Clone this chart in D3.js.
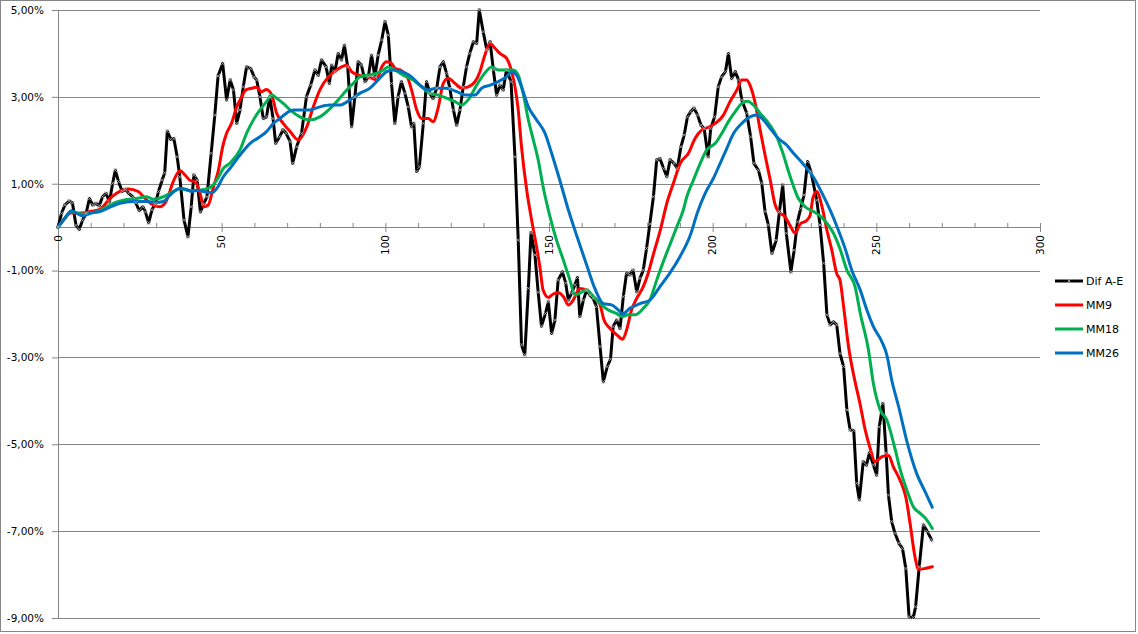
<!DOCTYPE html>
<html><head><meta charset="utf-8">
<script src="https://cdn.jsdelivr.net/npm/d3@7"></script>
<style>body{margin:0;background:#fff} svg{display:block}</style>
</head><body>
<svg id="c" width="1138" height="634"></svg>
<script>
const seriesNames = ["Dif A-E", "MM9", "MM18", "MM26"];
const seriesColors = ["#000000", "#FF0000", "#00B050", "#0070C0"];
const xTickValues = [0, 50, 100, 150, 200, 250, 300];
const yTickValues = [-9, -7, -5, -3, -1, 1, 3, 5];

const difAE = [[0,0],[1.1,0.32],[2.1,0.51],[3.4,0.60],[4.4,0.56],[5.5,0.04],[6.5,-0.05],[7.5,0.16],[8.6,0.32],[9.6,0.66],[10.6,0.51],[11.6,0.55],[12.6,0.49],[13.6,0.70],[14.7,0.78],[15.7,0.58],[16.7,1.01],[17.5,1.31],[18.5,1.05],[19.6,0.82],[20.6,0.87],[21.6,0.78],[22.8,0.70],[23.8,0.56],[24.8,0.38],[25.9,0.47],[26.7,0.35],[27.7,0.10],[28.7,0.40],[29.7,0.53],[30.7,0.82],[31.8,1.08],[32.6,1.25],[33.4,2.21],[34.4,2.02],[35.4,2.04],[36.4,1.62],[37.2,1.16],[38.5,0.16],[39.7,-0.22],[40.7,0.47],[41.5,1.20],[42.5,1.08],[43.5,0.35],[44.5,0.53],[45.5,0.70],[46.8,1.70],[47.9,2.58],[48.9,3.48],[50.3,3.77],[51.5,2.93],[52.6,3.39],[53.6,3.16],[54.6,2.39],[55.6,2.70],[56.6,3.23],[57.6,3.69],[58.9,3.65],[59.9,3.46],[60.7,3.39],[61.7,3.00],[62.7,2.50],[63.7,2.54],[64.7,3.00],[65.7,2.50],[66.5,1.93],[67.7,2.08],[68.7,2.24],[69.7,2.16],[70.9,1.97],[71.7,1.47],[72.9,1.85],[74.4,2.16],[75.9,3.00],[77.2,3.27],[78.5,3.62],[79.5,3.50],[80.5,3.85],[81.9,3.69],[82.9,3.31],[83.6,3.73],[84.6,3.58],[85.6,4.00],[86.6,3.85],[87.5,4.19],[88.5,3.69],[89.7,2.31],[90.7,3.00],[91.7,3.81],[92.7,3.73],[93.8,3.35],[94.8,3.46],[95.8,3.96],[96.8,3.46],[97.8,3.96],[98.9,4.31],[99.9,4.73],[100.9,4.42],[101.9,3.31],[102.9,2.39],[103.9,3.00],[104.9,3.35],[106,3.08],[107,2.77],[108,2.31],[108.7,2.39],[109.6,1.28],[110.4,1.39],[111.6,2.39],[112.6,3.35],[113.6,3.08],[114.6,2.96],[115.7,3.20],[116.7,3.69],[117.7,3.81],[118.7,3.54],[119.7,3.20],[120.8,2.70],[121.8,2.35],[122.8,2.70],[123.8,3.23],[124.8,3.69],[125.8,4.00],[126.9,4.27],[127.9,4.23],[128.7,5.0],[129.9,4.50],[131,4.08],[132,4.27],[133,3.62],[134,3.04],[135,3.27],[136,3.16],[137,3.62],[138.4,3.35],[139.6,1.62],[140.6,-0.30],[141.6,-2.71],[142.6,-2.94],[143.7,-1.41],[144.5,-0.13],[145.7,-0.64],[146.7,-1.50],[147.7,-2.28],[148.9,-1.99],[149.8,-1.72],[150.8,-2.45],[151.8,-2.14],[152.8,-1.22],[154.1,-1.03],[155.1,-1.29],[155.9,-1.68],[156.9,-1.52],[157.9,-1.33],[158.7,-1.16],[159.4,-2.06],[160.5,-1.68],[161.5,-1.45],[162.5,-1.56],[163.5,-1.64],[164.5,-1.83],[165.6,-2.75],[166.6,-3.56],[167.8,-3.21],[168.8,-3.04],[169.6,-2.29],[170.7,-2.14],[171.7,-2.33],[172.7,-1.60],[173.7,-1.06],[174.7,-1.10],[175.7,-0.99],[176.8,-1.49],[177.8,-1.18],[178.8,-0.99],[179.8,-0.49],[180.8,0.07],[181.9,0.70],[182.9,1.55],[183.9,1.58],[185,1.35],[186,1.16],[187,1.55],[188.2,1.47],[189.2,1.35],[190.3,1.85],[191.3,2.12],[192.3,2.54],[193.3,2.66],[194.3,2.74],[195.4,2.58],[196.4,2.35],[197.4,2.27],[198.6,1.62],[199.4,2.27],[200.6,2.54],[201.7,3.23],[202.7,3.46],[203.9,3.58],[204.8,4.00],[205.8,3.42],[206.9,3.58],[207.9,3.39],[208.9,2.93],[210.4,2.62],[211.6,2.08],[212.6,1.47],[214,1.31],[215,1.01],[216,0.36],[217,0.05],[218.1,-0.60],[219.4,-0.30],[220.4,0.36],[221.4,0.97],[222.5,-0.14],[223.9,-1.03],[224.9,-0.53],[225.9,0.12],[226.9,0.43],[227.9,0.74],[229,1.51],[230,1.28],[231.8,0.62],[232.8,0.05],[233.9,-0.83],[234.9,-2.02],[235.9,-2.25],[236.9,-2.18],[237.9,-2.25],[238.9,-2.91],[240,-3.21],[241,-4.21],[242,-4.67],[243.1,-4.68],[244,-5.90],[244.8,-6.28],[246,-5.40],[247,-5.48],[247.9,-5.19],[249.1,-5.48],[250.1,-5.71],[250.9,-4.60],[252,-4.06],[253,-5.20],[253.7,-6.17],[254.7,-6.78],[255.7,-7.05],[256.9,-7.28],[258,-7.40],[259,-7.86],[260,-8.97],[261.3,-8.99],[262,-8.74],[263.1,-7.82],[264.4,-6.86],[265.6,-7.01],[266.9,-7.20]];

const mm9 = [[0,0],[2,0.2],[4,0.33],[6,0.32],[8,0.33],[9.3,0.35],[12.8,0.41],[15.9,0.66],[17.9,0.78],[21.5,0.88],[24.5,0.82],[26.6,0.66],[29.1,0.51],[31.2,0.47],[33.2,0.62],[35.2,1.05],[37.3,1.30],[38.8,1.20],[40.3,1.08],[41.9,1.05],[43.4,0.78],[44.6,0.47],[45.9,0.51],[47.5,0.93],[49,1.31],[50.3,1.85],[51.5,2.16],[53,2.39],[54.6,2.77],[56.1,3.00],[57.4,3.16],[59.2,3.20],[60.7,3.22],[62.2,3.12],[63.7,3.17],[65.3,3.04],[66.8,2.62],[68.8,2.39],[70.9,2.20],[73.4,2.01],[76,2.31],[78,2.77],[80,3.16],[82.6,3.46],[85.1,3.62],[88.2,3.73],[89.7,3.58],[91.7,3.50],[94.3,3.46],[95.8,3.43],[97.3,3.39],[98.9,3.69],[100.4,3.81],[101.9,3.77],[102.9,3.66],[104.5,3.62],[106.5,3.50],[108,3.16],[109.6,2.70],[111.1,2.50],[113.1,2.50],[114.6,2.43],[116.2,2.77],[117.7,3.31],[119.2,3.43],[121.3,3.31],[123.3,3.20],[125.3,3.23],[127.4,3.35],[128.9,3.58],[130.4,3.96],[132,4.23],[133.5,4.12],[135,4.00],[137,3.89],[138.6,3.58],[139.6,3.23],[140.6,2.70],[141.6,1.85],[143.2,0.85],[144.7,0.16],[146.2,-0.45],[147.2,-0.91],[148.2,-1.45],[149.8,-1.62],[151.3,-1.54],[152.8,-1.51],[154.4,-1.60],[155.9,-1.79],[157.4,-1.68],[159.4,-1.41],[161.5,-1.45],[163.5,-1.60],[165.6,-1.79],[166.8,-2.14],[168.6,-2.33],[170.7,-2.48],[172.5,-2.58],[173.7,-2.37],[175.2,-1.91],[176.8,-1.64],[178.8,-1.37],[180.3,-1.06],[181.9,-0.62],[183.9,-0.10],[186,0.55],[188,1.01],[190.1,1.47],[192.6,1.70],[194.6,2.04],[196.7,2.24],[198.7,2.30],[200.8,2.39],[203.3,2.58],[205.3,2.89],[207.4,3.16],[208.9,3.39],[210.4,3.39],[211.4,3.27],[213,2.85],[214.5,2.24],[216,1.66],[217.6,1.08],[219.1,0.51],[220.1,0.36],[222.1,0.24],[223.7,0.03],[225.2,-0.14],[226.7,0.07],[228.8,0.16],[229.8,0.28],[230.6,0.66],[231.8,0.82],[233.4,0.47],[234.9,-0.07],[236.4,-0.53],[237.9,-1.07],[238.9,-1.22],[240,-1.83],[241.5,-2.75],[243.5,-3.56],[245,-4.06],[246.6,-4.67],[248.1,-5.09],[249.6,-5.40],[251.6,-5.29],[253.7,-5.25],[255.2,-5.52],[257.2,-5.82],[259.1,-6.25],[260.3,-6.82],[261.8,-7.59],[262.9,-7.88],[264.9,-7.86],[267.1,-7.82]];

const mm18 = [[0,0],[2,0.2],[4,0.36],[6,0.32],[8,0.3],[10.3,0.33],[12.8,0.38],[14.5,0.45],[16.9,0.55],[20,0.62],[24,0.66],[27.1,0.70],[29.1,0.64],[32.2,0.70],[35.2,0.82],[37.3,0.89],[39.3,0.85],[41.3,0.84],[43.4,0.85],[46.4,0.91],[48.5,1.08],[50.5,1.35],[52.5,1.47],[55.6,1.78],[57.6,2.16],[59.7,2.47],[61.7,2.70],[63.7,2.89],[65.3,3.04],[66.8,2.97],[68.8,2.85],[70.9,2.70],[73.9,2.54],[77,2.47],[80,2.54],[83.1,2.73],[85.6,2.93],[88.2,3.16],[90.2,3.31],[92.2,3.46],[94.8,3.50],[97.3,3.54],[99.4,3.62],[100.9,3.69],[102.9,3.62],[105.5,3.50],[108.5,3.39],[111.1,3.23],[113.6,3.08],[116.2,3.04],[118.7,2.97],[121.3,2.89],[123.3,2.81],[125.3,2.93],[127.9,3.27],[129.9,3.50],[132.5,3.69],[134.5,3.62],[137,3.62],[139.1,3.62],[140.6,3.50],[142.1,3.08],[143.7,2.47],[145.2,2.01],[146.7,1.55],[148.2,0.93],[150.3,0.24],[152.3,-0.30],[154.4,-0.76],[156.4,-1.22],[157.9,-1.56],[159.4,-1.52],[161.5,-1.45],[163.5,-1.60],[165.6,-1.76],[168.1,-1.91],[170.7,-1.99],[172.2,-2.06],[174.2,-2.02],[176.3,-2.02],[178.8,-1.87],[180.8,-1.68],[182.9,-1.22],[184.9,-0.80],[186.9,-0.41],[189,0.0],[191,0.39],[192.1,0.70],[194.1,1.08],[196.2,1.47],[198.2,1.78],[200.8,1.93],[202.8,2.16],[204.8,2.43],[206.9,2.66],[208.9,2.85],[210.6,2.90],[212.5,2.81],[214.5,2.62],[217.1,2.39],[219.6,2.08],[221.1,1.78],[223.7,1.16],[226.2,0.66],[228.2,0.47],[230.8,0.36],[232.8,0.26],[234.9,0.09],[236.9,-0.14],[238.9,-0.50],[241,-0.99],[243.5,-1.37],[245.1,-1.99],[247.6,-2.83],[249.1,-3.60],[251.2,-4.21],[253.2,-4.44],[255.8,-5.13],[257.2,-5.56],[259.3,-6.05],[261.3,-6.44],[263.4,-6.59],[265.4,-6.74],[267.1,-6.94]];

const mm26 = [[0,0],[2.1,0.20],[4.2,0.38],[5.7,0.32],[7.7,0.26],[10.3,0.33],[12.8,0.36],[15.9,0.46],[18.9,0.55],[23,0.59],[27.1,0.59],[30.1,0.57],[32.2,0.59],[34.2,0.74],[37.3,0.89],[39.3,0.87],[40.8,0.82],[42.4,0.85],[44.4,0.82],[46.9,0.79],[48.5,0.89],[50.5,1.16],[52.5,1.35],[55.6,1.66],[58.7,1.93],[61.7,2.08],[63.7,2.20],[65.8,2.39],[67.8,2.50],[69.9,2.63],[71.9,2.70],[73.9,2.70],[77,2.70],[80,2.77],[83.1,2.81],[86.1,2.81],[89.2,2.93],[92.2,3.08],[95.3,3.20],[97.8,3.39],[100.4,3.58],[102.4,3.62],[105,3.58],[108,3.46],[110.6,3.27],[113.1,3.16],[115.7,3.20],[118.7,3.20],[121.8,3.12],[124.8,3.04],[127.4,3.04],[129.4,3.20],[132,3.27],[134.5,3.35],[137,3.46],[138.6,3.58],[140.1,3.50],[141.6,3.23],[143.7,2.77],[146.2,2.47],[148.8,2.16],[150.8,1.70],[153.3,1.08],[155.9,0.40],[158.4,-0.18],[161.5,-0.87],[164,-1.41],[166.6,-1.76],[169.1,-1.79],[171.2,-1.91],[172.5,-2.00],[174.7,-1.87],[177.8,-1.76],[180.8,-1.68],[183.9,-1.37],[186.9,-1.06],[190,-0.68],[193.1,-0.20],[195.4,0.35],[197.7,0.78],[200.2,1.12],[202.3,1.47],[204.3,1.81],[206.4,2.16],[208.9,2.39],[211.4,2.54],[213.5,2.58],[215.5,2.47],[217.6,2.27],[220.1,2.04],[222.6,1.89],[224.7,1.70],[227.7,1.45],[230.8,1.15],[233.3,0.80],[235.9,0.39],[238.4,-0.07],[240.5,-0.50],[242.5,-0.99],[245.1,-1.45],[247.1,-1.91],[249.1,-2.29],[251.7,-2.64],[253.2,-2.94],[254.7,-3.52],[256.8,-4.13],[259.5,-4.98],[262.3,-5.67],[264.9,-6.09],[267.1,-6.45]];

const allSeries = [difAE, mm9, mm18, mm26];

const svg = d3.select("#c");
const FONT = "'DejaVu Sans', Verdana, sans-serif";
const x = d3.scaleLinear().domain([0, 300]).range([58, 1040]);
const y = d3.scaleLinear().domain([-9, 5]).range([618, 10]);
const GRID = "#868686";

svg.append("rect").attr("x", 0.5).attr("y", 0.5).attr("width", 1135).attr("height", 631)
  .attr("fill", "#fff").attr("stroke", GRID);

// horizontal gridlines
svg.append("g").selectAll("line").data(yTickValues).join("line")
  .attr("x1", x(0)).attr("x2", x(300))
  .attr("y1", d => Math.round(y(d)) + 0.5).attr("y2", d => Math.round(y(d)) + 0.5)
  .attr("stroke", GRID).attr("stroke-width", 1);

// y axis
const fmt = d => d3.format(".2f")(d).replace("−", "-").replace(".", ",") + "%";
const yAxis = svg.append("g").attr("transform", `translate(${x(0)},0)`)
  .call(d3.axisLeft(y).tickValues(yTickValues).tickSize(6).tickSizeOuter(0).tickPadding(8).tickFormat(fmt));
yAxis.selectAll("path,line").attr("stroke", GRID);
yAxis.selectAll("text").attr("font-family", FONT).attr("font-size", "10.5px").attr("fill", "#000");

// x axis at zero
const y0 = Math.round(y(0));
const minorTicks = d3.range(0, 301, 10).filter(d => d % 50 !== 0);
const xMinor = svg.append("g").attr("transform", `translate(0,${y0})`)
  .call(d3.axisTop(x).tickValues(minorTicks).tickSize(4).tickSizeOuter(0).tickFormat(""));
const xMajTop = svg.append("g").attr("transform", `translate(0,${y0})`)
  .call(d3.axisTop(x).tickValues(xTickValues).tickSize(4).tickSizeOuter(0).tickFormat(""));
const xMaj = svg.append("g").attr("transform", `translate(0,${y0})`)
  .call(d3.axisBottom(x).tickValues(xTickValues).tickSize(5).tickSizeOuter(0).tickFormat(""));
[xMinor, xMajTop, xMaj].forEach(g => g.selectAll("path,line").attr("stroke", GRID));
svg.append("g").selectAll("text").data(xTickValues).join("text")
  .attr("transform", d => `translate(${x(d)},${y0 + 8}) rotate(-90)`)
  .attr("text-anchor", "end").attr("dy", "0.35em")
  .attr("font-family", FONT).attr("font-size", "10.5px").attr("fill", "#000")
  .text(d => d);

// series
const lineLin = d3.line().x(d => x(d[0])).y(d => y(d[1]));
const lineSmooth = d3.line().x(d => x(d[0])).y(d => y(d[1])).curve(d3.curveMonotoneX);
const plot = svg.append("g");
allSeries.forEach((s, i) => {
  plot.append("path").datum(s)
    .attr("d", i === 0 ? lineLin : lineSmooth)
    .attr("fill", "none").attr("stroke", seriesColors[i])
    .attr("stroke-width", 3).attr("stroke-linejoin", "round").attr("stroke-linecap", "round");
});
const xMark = "M-2,-2L2,2M-2,2L2,-2";
plot.append("g").selectAll("path").data(difAE).join("path")
  .attr("transform", d => `translate(${x(d[0])},${y(d[1])})`)
  .attr("d", xMark).attr("stroke", "#b0b0b0").attr("stroke-width", 0.8).attr("fill", "none");

// legend
const legendY = [281, 305, 329, 353];
const lg = svg.append("g");
seriesNames.forEach((n, i) => {
  lg.append("line").attr("x1", 1055).attr("x2", 1083).attr("y1", legendY[i]).attr("y2", legendY[i])
    .attr("stroke", seriesColors[i]).attr("stroke-width", 3);
  if (i === 0) lg.append("path").attr("transform", `translate(1069,${legendY[i]})`)
    .attr("d", xMark).attr("stroke", "#b0b0b0").attr("stroke-width", 0.8);
  lg.append("text").attr("x", 1086).attr("y", legendY[i]).attr("dy", "0.35em")
    .attr("font-family", FONT).attr("font-size", "11px").attr("fill", "#000").text(n);
});
</script>
</body></html>
